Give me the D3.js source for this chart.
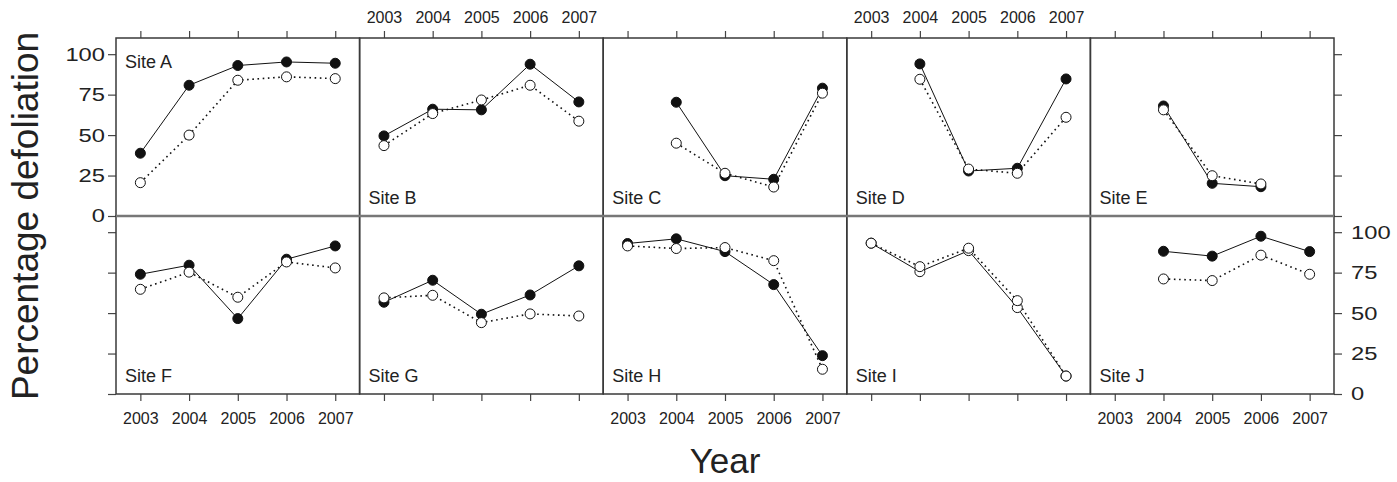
<!DOCTYPE html>
<html>
<head>
<meta charset="utf-8">
<script src="https://cdnjs.cloudflare.com/ajax/libs/d3/7.8.5/d3.min.js"></script>
<style>
    body { margin: 0; background: #fff; }
    text { font-family: "Liberation Sans", Arial, sans-serif; fill: #222; }
    .tick line { stroke: #444; stroke-width: 1.2; }
</style>
</head>
<body>
<script>
var years = [2003, 2004, 2005, 2006, 2007];
var sites = ["Site A", "Site B", "Site C", "Site D", "Site E",
             "Site F", "Site G", "Site H", "Site I", "Site J"];
var yTicks = [0, 25, 50, 75, 100];

// solid line, filled points
var solidSeries = [
    [38.8, 80.8, 93, 95.2, 94.4],
    [49.5, 66, 65.6, 93.8, 70.5],
    [null, 70.3, 24.9, 22.7, 79],
    [null, 94, 27.8, 29.5, 84.7],
    [null, 68, 20.2, 18.1, null],
    [74, 79.6, 46.6, 83.3, 91.5],
    [56.7, 70.3, 49.3, 61.2, 79.2],
    [93, 95.9, 88, 67.6, 23.7],
    [93.2, 75.6, 88.6, 53.4, 11.1],
    [null, 88.2, 85.2, 97.5, 88]
];

// dotted line, open points
var dottedSeries = [
    [20.6, 50, 83.9, 86, 84.9],
    [43.5, 63.3, 71.7, 80.8, 58.6],
    [null, 45, 26.4, 17.9, 75.9],
    [null, 84.5, 29, 26.4, 61],
    [null, 65.6, 24.9, 19.8, null],
    [64.7, 75.3, 59.8, 81.6, 77.9],
    [59.4, 61, 44.1, 49.5, 48.2],
    [91.5, 89.9, 90.5, 82.4, 15.3],
    [93.2, 78.7, 90.1, 57.7, 11.1],
    [null, 71.1, 70.1, 85.8, 74]
];

// sites where both series are drawn with open symbols
var hollowSites = ["Site I"];
var labelTopSites = ["Site A"];

var plotLeft = 116, plotTop = 38, plotRight = 1334,
    nCols = 5,
    panelW = (plotRight - plotLeft) / nCols,
    rowH = 178;

var svg = d3.select("body").append("svg")
    .attr("width", 1397)
    .attr("height", 482);

var x = d3.scaleLinear().domain([2002.5, 2007.5]).range([0, panelW]);
var y = d3.scaleLinear().domain([0, 110]).range([rowH, 0]);

var line = d3.line()
    .defined(function (d) { return d.v != null; })
    .x(function (d) { return x(d.year); })
    .y(function (d) { return y(d.v); });

function toPoints(arr) {
    return years.map(function (yr, i) { return { year: yr, v: arr[i] }; });
}

var blank = function () { return ""; };

sites.forEach(function (site, i) {
    var col = i % nCols, row = Math.floor(i / nCols);
    var g = svg.append("g")
        .attr("transform", "translate(" + (plotLeft + col * panelW) + "," + (plotTop + row * rowH) + ")");

    // axes: alternating labels like lattice
    if (row == 0) {
        g.append("g").call(d3.axisTop(x).tickValues(years).tickSize(7).tickPadding(8)
            .tickFormat(col % 2 == 1 ? d3.format("d") : blank));
    } else {
        g.append("g").attr("transform", "translate(0," + rowH + ")")
            .call(d3.axisBottom(x).tickValues(years).tickSize(7).tickPadding(12)
            .tickFormat(col % 2 == 0 ? d3.format("d") : blank));
    }
    g.selectAll(".tick text")
        .style("font-size", "16px")
        .attr("fill", "#222");

    if (col == 0) {
        g.append("g").attr("class", "yaxis")
            .call(d3.axisLeft(y).tickValues(yTicks).tickSize(8).tickPadding(3)
            .tickFormat(row == 0 ? d3.format("d") : blank));
    }
    if (col == nCols - 1) {
        g.append("g").attr("class", "yaxis").attr("transform", "translate(" + panelW + ",0)")
            .call(d3.axisRight(y).tickValues(yTicks).tickSize(8).tickPadding(9)
            .tickFormat(row == 1 ? d3.format("d") : blank));
    }
    // y labels are drawn wider than the year labels
    g.selectAll(".yaxis .tick text")
        .style("font-size", "18.5px")
        .attr("fill", "#222")
        .attr("lengthAdjust", "spacingAndGlyphs")
        .attr("textLength", function () { return this.textContent.length * 13.2 || null; });
    g.selectAll(".domain").remove();

    g.append("rect")
        .attr("width", panelW)
        .attr("height", rowH)
        .attr("fill", "none")
        .attr("stroke", "#3a3a3a")
        .attr("stroke-width", 1.5);

    var hollow = hollowSites.indexOf(site) >= 0;
    var solid = toPoints(solidSeries[i]);
    var dotted = toPoints(dottedSeries[i]);

    g.append("path")
        .datum(solid)
        .attr("d", line)
        .attr("fill", "none")
        .attr("stroke", "#111")
        .attr("stroke-width", 1);

    g.selectAll(".solidPt")
        .data(solid.filter(function (d) { return d.v != null; }))
        .enter().append("circle")
        .attr("class", "solidPt")
        .attr("cx", function (d) { return x(d.year); })
        .attr("cy", function (d) { return y(d.v); })
        .attr("r", 5)
        .attr("fill", hollow ? "#fff" : "#111")
        .attr("stroke", "#111")
        .attr("stroke-width", 1);

    g.append("path")
        .datum(dotted)
        .attr("d", line)
        .attr("fill", "none")
        .attr("stroke", "#111")
        .attr("stroke-width", 1.6)
        .attr("stroke-dasharray", "1.6,3.6");

    g.selectAll(".dottedPt")
        .data(dotted.filter(function (d) { return d.v != null; }))
        .enter().append("circle")
        .attr("class", "dottedPt")
        .attr("cx", function (d) { return x(d.year); })
        .attr("cy", function (d) { return y(d.v); })
        .attr("r", 5)
        .attr("fill", "#fff")
        .attr("stroke", "#111")
        .attr("stroke-width", 1);

    var onTop = labelTopSites.indexOf(site) >= 0;
    g.append("text")
        .attr("x", 9)
        .attr("y", onTop ? 30 : rowH - 12)
        .style("font-size", "18px")
        .text(site);
});

// row divider
svg.append("line")
    .attr("x1", plotLeft).attr("x2", plotRight)
    .attr("y1", plotTop + rowH).attr("y2", plotTop + rowH)
    .attr("stroke", "#777")
    .attr("stroke-width", 2.5);

svg.append("text")
    .attr("transform", "translate(38," + (plotTop + rowH) + ") rotate(-90)")
    .attr("text-anchor", "middle")
    .style("font-size", "37px")
    .text("Percentage defoliation");

svg.append("text")
    .attr("x", (plotLeft + plotRight) / 2)
    .attr("y", 473)
    .attr("text-anchor", "middle")
    .style("font-size", "35px")
    .text("Year");
</script>
</body>
</html>
